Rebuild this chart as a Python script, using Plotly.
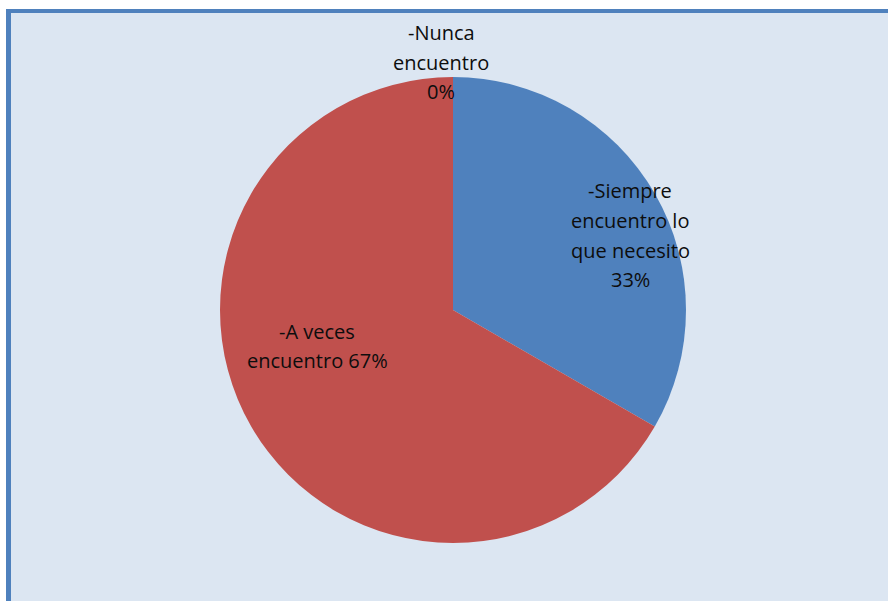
import plotly.graph_objects as go

# Data
categories = ["-Siempre encuentro lo que necesito", "-A veces encuentro", "-Nunca encuentro"]
values = [1, 2, 0]
slice_colors = ["#4F81BD", "#C0504D", "#9BBB59"]

# label lines as they are wrapped in the chart (percent appended from the values)
label_lines = [
    ["-Siempre", "encuentro lo", "que necesito", "{pct}"],
    ["-A veces", "encuentro {pct}"],
    ["-Nunca", "encuentro", "{pct}"],
]

W, H = 888, 601
total = sum(values)
pcts = [f"{round(100 * v / total)}%" for v in values]

fig = go.Figure()

fig.add_trace(go.Pie(
    labels=categories,
    values=values,
    sort=False,
    direction="clockwise",
    rotation=0,
    marker=dict(colors=slice_colors, line=dict(width=0)),
    textinfo="none",
    hoverinfo="label+percent",
    showlegend=False,
    domain=dict(x=[220 / W, 686 / W], y=[1 - 543 / H, 1 - 77 / H]),
))

# label placement (pixel centre of first line, horizontal centre)
label_pos = [(630, 191), (317, 331), (441, 33)]
line_gap = 29.5

annotations = []
for lines, pct, (px, py) in zip(label_lines, pcts, label_pos):
    for k, line in enumerate(lines):
        annotations.append(dict(
            x=px / W, y=1 - (py + k * line_gap) / H,
            xref="paper", yref="paper",
            text=line.format(pct=pct),
            showarrow=False,
            xanchor="center", yanchor="middle",
            font=dict(family="Open Sans", size=20, color="#0d0d0d"),
        ))

# chart area background and blue frame
shapes = [
    dict(type="rect", xref="paper", yref="paper", layer="below",
         x0=11 / W, x1=1, y0=0, y1=1 - 13 / H,
         fillcolor="#DCE6F2", line=dict(width=0)),
    dict(type="rect", xref="paper", yref="paper", layer="below",
         x0=6 / W, x1=11 / W, y0=0, y1=1 - 9 / H,
         fillcolor="#4F81BD", line=dict(width=0)),
    dict(type="rect", xref="paper", yref="paper", layer="below",
         x0=6 / W, x1=1, y0=1 - 13 / H, y1=1 - 9 / H,
         fillcolor="#4F81BD", line=dict(width=0)),
]

fig.update_layout(
    width=W, height=H,
    margin=dict(l=0, r=0, t=0, b=0),
    paper_bgcolor="white",
    plot_bgcolor="white",
    annotations=annotations,
    shapes=shapes,
)

fig.write_html("out.html", config={"displayModeBar": False},
               post_script="document.body.style.margin='0';")
